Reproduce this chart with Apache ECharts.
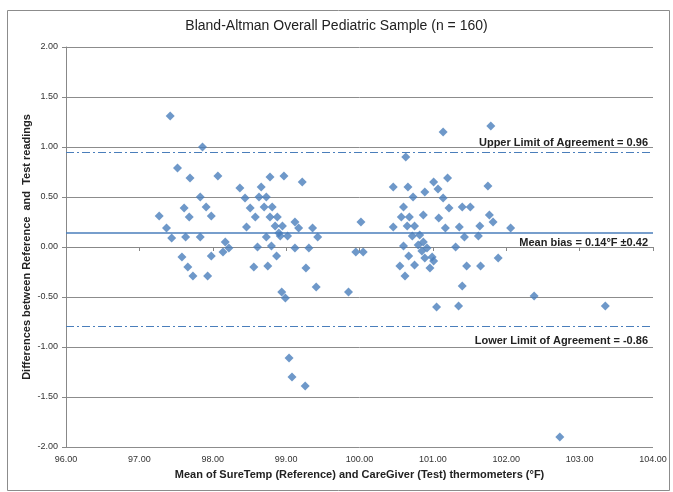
<!DOCTYPE html>
<html>
<head>
<meta charset="utf-8">
<script src="https://cdn.jsdelivr.net/npm/echarts@6/dist/echarts.min.js"></script>
<style>
  html, body { margin: 0; padding: 0; background: #fff; }
  #chart { width: 673px; height: 492px; }
</style>
</head>
<body>
<div id="chart"></div>
<script>
// mean of the two thermometers (°F)
var meanTemps = [
  97.42, 97.86, 97.52, 97.69, 98.07, 97.27, 97.37, 97.44, 97.61, 97.68,
  97.63, 97.83, 97.91, 97.98, 97.83, 97.58, 97.66, 97.73, 97.93, 97.98,
  98.17, 98.22, 98.14, 98.37, 98.44, 98.51, 98.58, 98.46, 98.56, 98.61,
  98.66, 98.63, 98.73, 98.78, 98.70, 98.81, 98.78, 98.88, 98.85, 98.73,
  98.80, 98.87, 98.75, 98.97, 99.22, 98.95, 98.90, 98.92, 99.02, 99.12,
  99.17, 99.12, 99.36, 99.43, 99.31, 99.27, 99.41, 98.94, 98.99, 99.04,
  99.08, 99.26, 99.85, 99.95, 100.05, 100.02, 100.46, 100.63, 100.66, 100.73,
  100.60, 100.57, 100.68, 100.46, 100.65, 100.75, 100.72, 100.60, 100.67, 100.55,
  100.75, 100.62, 100.89, 100.87, 100.82, 100.80, 100.85, 100.87, 100.92, 100.89,
  100.96, 100.99, 101.01, 101.01, 101.07, 101.08, 101.05, 101.14, 101.79, 101.20,
  101.14, 101.22, 101.17, 101.31, 101.36, 101.40, 101.51, 101.43, 101.46, 101.40,
  101.35, 101.62, 101.64, 101.65, 101.75, 101.77, 101.82, 101.89, 102.06, 102.38,
  102.73, 103.35
];
// difference between reference and test readings
var diffs = [
  1.31, 1.00, 0.79, 0.69, 0.71, 0.31, 0.19, 0.09, 0.39, 0.30,
  0.10, 0.50, 0.40, 0.31, 0.10, -0.10, -0.20, -0.29, -0.29, -0.09,
  0.05, -0.01, -0.05, 0.59, 0.49, 0.39, 0.30, 0.20, -0.20, 0.00,
  0.60, 0.50, 0.50, 0.70, 0.40, 0.40, 0.30, 0.30, 0.21, 0.10,
  0.01, -0.09, -0.19, 0.71, 0.65, 0.21, 0.14, 0.11, 0.11, 0.25,
  0.19, -0.01, 0.19, 0.10, -0.01, -0.21, -0.40, -0.45, -0.51, -1.11,
  -1.30, -1.39, -0.45, -0.05, -0.05, 0.25, 0.60, 0.90, 0.60, 0.50,
  0.40, 0.30, 0.30, 0.20, 0.21, 0.21, 0.11, 0.01, -0.09, -0.19,
  -0.18, -0.29, 0.55, 0.32, 0.12, 0.02, -0.04, 0.05, -0.01, -0.11,
  -0.21, -0.10, -0.14, 0.65, 0.58, 0.29, -0.60, 1.15, 1.21, 0.69,
  0.49, 0.39, 0.19, 0.00, 0.20, 0.40, 0.40, 0.10, -0.19, -0.39,
  -0.59, 0.11, 0.21, -0.19, 0.61, 0.32, 0.25, -0.11, 0.19, -0.49,
  -1.90, -0.59
];

// reference lines (position as drawn) and their captions
var meanBias = 0.145;
var upperLimit = 0.955;
var lowerLimit = -0.785;
var meanLabel = 'Mean bias = 0.14°F ±0.42';
var upperLabel = 'Upper Limit of Agreement = 0.96';
var lowerLabel = 'Lower Limit of Agreement = -0.86';

var points = meanTemps.map(function (t, i) { return [t, diffs[i]]; });

var chart = echarts.init(document.getElementById('chart'));
var blue = '#4A7EBB';
var labelFont = '"Liberation Sans Narrow", "Liberation Sans", Arial, sans-serif';

var option = {
  backgroundColor: '#fff',
  animation: false,
  title: {
    text: 'Bland-Altman Overall Pediatric Sample (n = 160)',
    left: 'center',
    top: 14,
    textStyle: { fontSize: 14, fontWeight: 'normal', color: '#222', fontFamily: labelFont }
  },
  graphic: [{
    type: 'rect',
    left: 5, top: 8,
    shape: { width: 662, height: 480 },
    style: { fill: 'none', stroke: '#8c8c8c', lineWidth: 1 },
    silent: true
  }],
  grid: { left: 66, right: 20, top: 47, bottom: 45 },
  xAxis: {
    type: 'value',
    min: 96, max: 104, interval: 1,
    name: 'Mean of SureTemp (Reference) and CareGiver (Test) thermometers (°F)',
    nameLocation: 'middle',
    nameGap: 22,
    nameTextStyle: { fontSize: 11, fontWeight: 'bold', color: '#222', fontFamily: labelFont },
    axisLine: { lineStyle: { color: '#888' } },
    axisTick: { show: true, length: 4, lineStyle: { color: '#888' } },
    axisLabel: { fontSize: 9, color: '#333', formatter: function (v) { return v.toFixed(2); } },
    splitLine: { show: false }
  },
  yAxis: {
    type: 'value',
    min: -2, max: 2, interval: 0.5,
    name: 'Differences between Reference  and  Test readings',
    nameLocation: 'middle',
    nameGap: 34,
    nameMoveOverlap: false,
    nameTextStyle: { fontSize: 11, fontWeight: 'bold', color: '#222', fontFamily: labelFont },
    axisLine: { show: true, lineStyle: { color: '#888' } },
    axisTick: { show: true, length: 4, lineStyle: { color: '#888' } },
    axisLabel: { fontSize: 9, color: '#333', margin: 8, formatter: function (v) { return v.toFixed(2); } },
    splitLine: { show: true, lineStyle: { color: '#8c8c8c', width: 1 } }
  },
  series: [{
    type: 'scatter',
    symbol: 'diamond',
    symbolSize: 9,
    itemStyle: { color: blue },
    data: points,
    markLine: {
      silent: true,
      symbol: 'none',
      label: {
        show: true,
        fontSize: 11,
        fontWeight: 'bold',
        color: '#222',
        fontFamily: labelFont
      },
      data: [
        {
          yAxis: meanBias,
          lineStyle: { color: blue, type: 'solid', width: 1.5 },
          label: { formatter: meanLabel, position: 'insideEndBottom', distance: [5, 4] }
        },
        {
          yAxis: upperLimit,
          lineStyle: { color: blue, type: [8, 3, 2, 3], width: 1 },
          label: { formatter: upperLabel, position: 'insideEndTop', distance: [5, 4] }
        },
        {
          yAxis: lowerLimit,
          lineStyle: { color: blue, type: [8, 3, 2, 3], width: 1 },
          label: { formatter: lowerLabel, position: 'insideEndBottom', distance: [5, 9] }
        }
      ]
    }
  }]
};

chart.setOption(option);
</script>
</body>
</html>
